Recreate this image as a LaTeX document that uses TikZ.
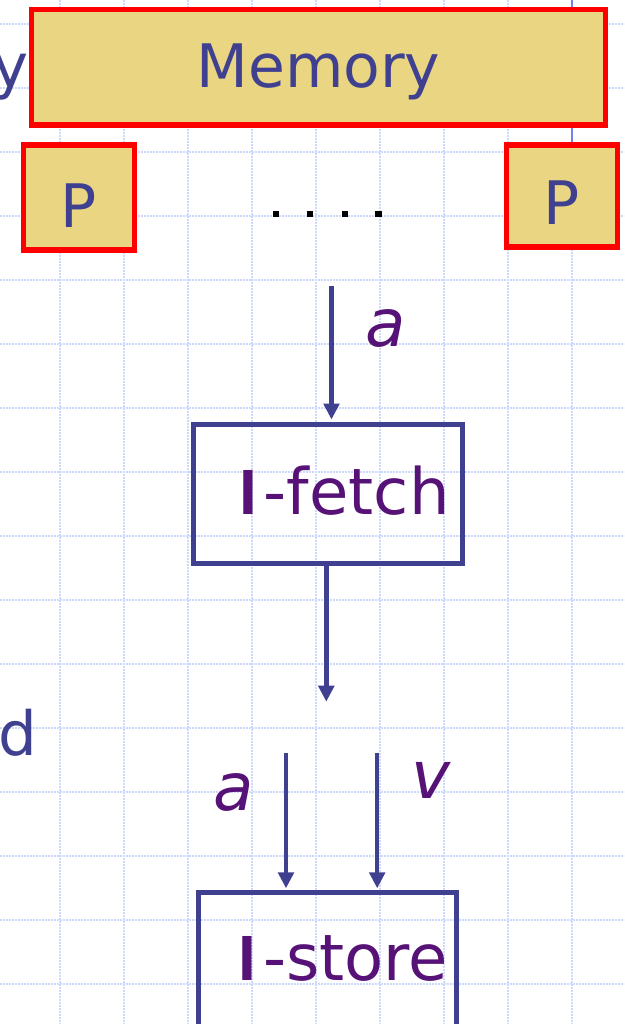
\documentclass[tikz,border=0pt]{standalone}
\usepackage{fontspec}
\setmainfont{DejaVu Sans}
\newfontfamily\ibold{Liberation Sans}
\usetikzlibrary{arrows.meta}
\definecolor{memfill}{RGB}{234,214,130}
\definecolor{memred}{RGB}{255,0,0}
\definecolor{slate}{RGB}{64,64,144}
\definecolor{purp}{RGB}{86,18,118}
\definecolor{gridblue}{RGB}{204,216,252}
\definecolor{vlinecol}{RGB}{112,132,240}
\newcommand{\boldI}{{\ibold\bfseries I}\kern6.5pt}
\begin{document}
\begin{tikzpicture}[x=1pt,y=-1pt,
 gridline/.style={gridblue, line width=1.7pt, dash pattern=on 1.8pt off 1.2pt},
 redbox/.style={draw=memred, fill=memfill, line width=5.2pt, rectangle, inner sep=0pt, text=slate, font=\fontsize{60}{72}\selectfont, text depth=0pt},
 flowbox/.style={draw=slate, line width=5pt, rectangle, inner sep=0pt},
 flowtext/.style={text=purp, font=\fontsize{64}{77}\selectfont, inner sep=0pt},
 flowarr/.style={draw=slate, line width=4.4pt, -{Triangle[width=15.5pt,length=16pt]}},
 varlabel/.style={text=purp, font=\fontsize{66}{79}\selectfont\itshape, inner sep=0pt},
 sidetext/.style={text=slate, font=\fontsize{61}{74}\selectfont, inner sep=0pt},
 dotsq/.style={fill=black}
]
\useasboundingbox (0,0) rectangle (624,1024);
\foreach \x in {60,124,...,572} \draw[gridline] (\x,0) -- (\x,1024);
\foreach \y in {24,88,...,984} \draw[gridline] (0,\y) -- (624,\y);

\coordinate (vtop) at (572,0);
\coordinate (vbot) at (572,145);
\draw[vlinecol, line width=2.4pt] (vtop) -- (vbot);

\node[redbox, minimum width=574pt, minimum height=115.5pt, text height=41.4pt] (mem) at (318.5,67.3) {Memory};
\node[redbox, minimum width=111pt, minimum height=105pt, text height=61pt] (pL) at (78.6,197.5) {P};
\node[redbox, minimum width=111pt, minimum height=102pt, text height=58pt] (pR) at (562,196) {P};

\fill[dotsq] (272.8,210.8) rectangle ++(6.4,6.4);
\fill[dotsq] (306.8,210.8) rectangle ++(6.4,6.4);
\fill[dotsq] (341.5,210.8) rectangle ++(6.4,6.4);
\fill[dotsq] (375.3,210.8) rectangle ++(6.4,6.4);

\node[sidetext, anchor=base east] (ty) at (29,88) {y};
\node[sidetext, anchor=base west] (td) at (-1.6,755) {d};

\node[flowbox, minimum width=269pt, minimum height=138.5pt] (fetch) at (327.5,493.75) {};
\node[flowtext, anchor=base west] (fetchtxt) at (239.4,514) {\boldI-fetch};

\coordinate (ain) at (331.5,286);
\draw[flowarr, shorten >=2.5pt] (ain) -- (ain |- fetch.north);
\node[varlabel, anchor=base] (la1) at (386,346) {a};

\coordinate (aout) at (326.3,701.7);
\draw[flowarr] (aout |- fetch.south) -- (aout);

\node[flowbox, minimum width=258.8pt, minimum height=220pt, anchor=north] (store) at (327.4,890.3) {};
\node[flowtext, anchor=base west] (storetxt) at (238.6,980.7) {\boldI-store};

\coordinate (sa) at (286,752.7);
\coordinate (sv) at (377.2,752.7);
\draw[flowarr, shorten >=2pt] (sa) -- (sa |- store.north);
\draw[flowarr, shorten >=2pt] (sv) -- (sv |- store.north);
\node[varlabel, anchor=base] (la2) at (234,810) {a};
\node[varlabel, anchor=base] (lv) at (431,798) {v};
\end{tikzpicture}
\end{document}
